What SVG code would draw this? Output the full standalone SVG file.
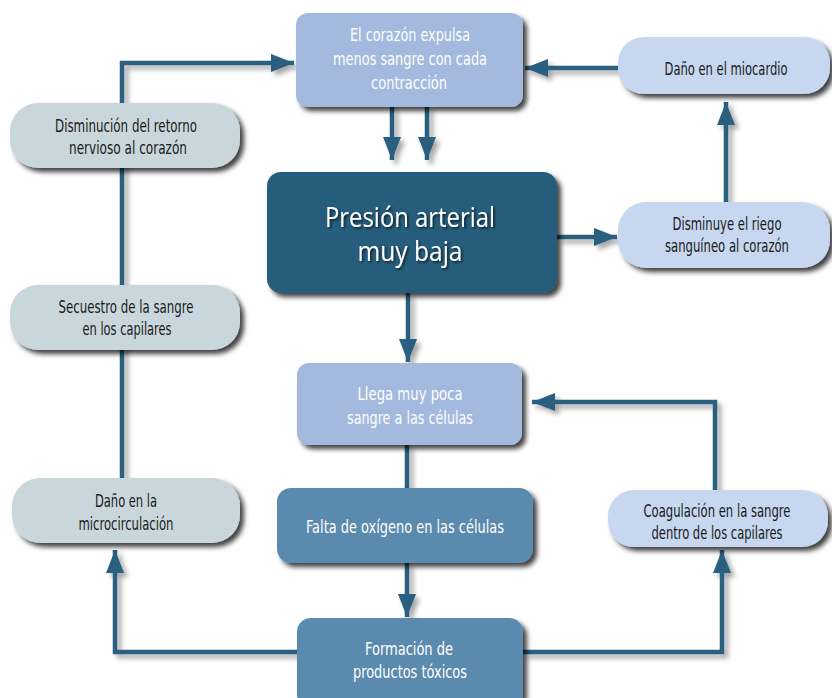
<svg xmlns="http://www.w3.org/2000/svg" width="832" height="698" viewBox="0 0 832 698">
<defs>
<filter id="sh" x="-10%" y="-10%" width="130%" height="140%">
<feDropShadow dx="4" dy="4" stdDeviation="2.5" flood-color="#000" flood-opacity="0.75"/>
</filter>
<filter id="lsh" x="-20%" y="-20%" width="140%" height="140%">
<feDropShadow dx="4" dy="4" stdDeviation="2.5" flood-color="#000" flood-opacity="0.35"/>
</filter>
<filter id="tsh" x="-10%" y="-10%" width="120%" height="130%">
<feDropShadow dx="1.5" dy="1.5" stdDeviation="1" flood-color="#000" flood-opacity="0.7"/>
</filter>
<marker id="ah" markerUnits="userSpaceOnUse" markerWidth="24" markerHeight="18" refX="23" refY="9" orient="auto">
<path d="M0,0 L23,9 L0,18 z" fill="#2A5F7F"/>
</marker>
</defs>
<style>
.c{fill:none;stroke:#2A5F7F;stroke-width:4.5}
.t{font-family:"Liberation Sans Narrow","DejaVu Sans Condensed","Liberation Sans",sans-serif;font-size:17px;text-anchor:middle}
.w{fill:#ffffff}
.d{fill:#1a1a1a}
.big{font-family:"Open Sans","Liberation Sans",sans-serif;font-size:27px;text-anchor:middle;fill:#ffffff}
</style>
<g id="connectors" filter="url(#lsh)">
<path class="c" d="M122,478 V63 H294" marker-end="url(#ah)"/>
<path class="c" d="M618,68 H525" marker-end="url(#ah)"/>
<path class="c" d="M392,107 V160" marker-end="url(#ah)"/>
<path class="c" d="M427,107 V160" marker-end="url(#ah)"/>
<path class="c" d="M557,237 H617" marker-end="url(#ah)"/>
<path class="c" d="M726,202 V102" marker-end="url(#ah)"/>
<path class="c" d="M408,293 V362" marker-end="url(#ah)"/>
<path class="c" d="M407,445 V488"/>
<path class="c" d="M407,563 V617" marker-end="url(#ah)"/>
<path class="c" d="M297,652 H115 V550" marker-end="url(#ah)"/>
<path class="c" d="M523,652 H722 V550" marker-end="url(#ah)"/>
<path class="c" d="M715,490 V402 H532" marker-end="url(#ah)"/>
</g>
<g id="n-corazon">
<rect x="296" y="13" width="227" height="94" rx="12" fill="#A3B9DE" filter="url(#sh)"/>
<text class="t w" font-size="19"><tspan x="410" y="41" textLength="120" lengthAdjust="spacingAndGlyphs">El corazón expulsa</tspan><tspan x="410" y="65" textLength="154" lengthAdjust="spacingAndGlyphs">menos sangre con cada</tspan><tspan x="409" y="89" textLength="76" lengthAdjust="spacingAndGlyphs">contracción</tspan></text>
</g>
<g id="n-disminucion">
<rect x="10" y="103" width="230" height="65" rx="28" fill="#C9D7DC" filter="url(#sh)"/>
<text class="t d"><tspan x="126" y="132" textLength="142" lengthAdjust="spacingAndGlyphs">Disminución del retorno</tspan><tspan x="128" y="154" textLength="118" lengthAdjust="spacingAndGlyphs">nervioso al corazón</tspan></text>
</g>
<g id="n-secuestro">
<rect x="10" y="285" width="230" height="65" rx="28" fill="#C9D7DC" filter="url(#sh)"/>
<text class="t d"><tspan x="126" y="313" textLength="135" lengthAdjust="spacingAndGlyphs">Secuestro  de la sangre</tspan><tspan x="127" y="335" textLength="89" lengthAdjust="spacingAndGlyphs">en los capilares</tspan></text>
</g>
<g id="n-microcirculacion">
<rect x="12" y="478" width="228" height="65" rx="28" fill="#C9D7DC" filter="url(#sh)"/>
<text class="t d"><tspan x="126" y="507" textLength="62" lengthAdjust="spacingAndGlyphs">Daño en la</tspan><tspan x="126" y="530" textLength="95" lengthAdjust="spacingAndGlyphs">microcirculación</tspan></text>
</g>
<g id="n-miocardio">
<rect x="618" y="37" width="212" height="57" rx="26" fill="#C6D7EF" filter="url(#sh)"/>
<text class="t d"><tspan x="726" y="75" textLength="123" lengthAdjust="spacingAndGlyphs">Daño en el miocardio</tspan></text>
</g>
<g id="n-disminuye">
<rect x="618" y="202" width="212" height="66" rx="28" fill="#C6D7EF" filter="url(#sh)"/>
<text class="t d"><tspan x="727" y="230" textLength="109" lengthAdjust="spacingAndGlyphs">Disminuye el riego</tspan><tspan x="727" y="252" textLength="124" lengthAdjust="spacingAndGlyphs">sanguíneo al corazón</tspan></text>
</g>
<g id="n-presion">
<rect x="267" y="172" width="290" height="121" rx="14" fill="#285D7B" filter="url(#sh)"/>
<text class="big" filter="url(#tsh)"><tspan x="410" y="227" textLength="170" lengthAdjust="spacingAndGlyphs">Presión arterial</tspan><tspan x="410" y="261" textLength="105" lengthAdjust="spacingAndGlyphs">muy baja</tspan></text>
</g>
<g id="n-llega">
<rect x="297" y="363" width="225" height="82" rx="12" fill="#A3B9DE" filter="url(#sh)"/>
<text class="t w" font-size="19"><tspan x="410" y="400" textLength="105" lengthAdjust="spacingAndGlyphs">Llega muy poca</tspan><tspan x="410" y="424" textLength="126" lengthAdjust="spacingAndGlyphs">sangre a las células</tspan></text>
</g>
<g id="n-falta">
<rect x="277" y="488" width="256" height="75" rx="14" fill="#5A8AAD" filter="url(#sh)"/>
<text class="t w" font-size="19"><tspan x="405" y="533" textLength="198" lengthAdjust="spacingAndGlyphs">Falta de oxígeno en las células</tspan></text>
</g>
<g id="n-coagulacion">
<rect x="608" y="490" width="220" height="57" rx="26" fill="#C6D7EF" filter="url(#sh)"/>
<text class="t d" font-size="16"><tspan x="717" y="517" textLength="147" lengthAdjust="spacingAndGlyphs">Coagulación en la sangre</tspan><tspan x="717" y="539" textLength="131" lengthAdjust="spacingAndGlyphs">dentro de los capilares</tspan></text>
</g>
<g id="n-formacion">
<rect x="297" y="618" width="226" height="90" rx="14" fill="#5A8AAD" filter="url(#sh)"/>
<text class="t w" font-size="19"><tspan x="409" y="655" textLength="88" lengthAdjust="spacingAndGlyphs">Formación de</tspan><tspan x="410" y="678" textLength="114" lengthAdjust="spacingAndGlyphs">productos tóxicos</tspan></text>
</g>
</svg>
